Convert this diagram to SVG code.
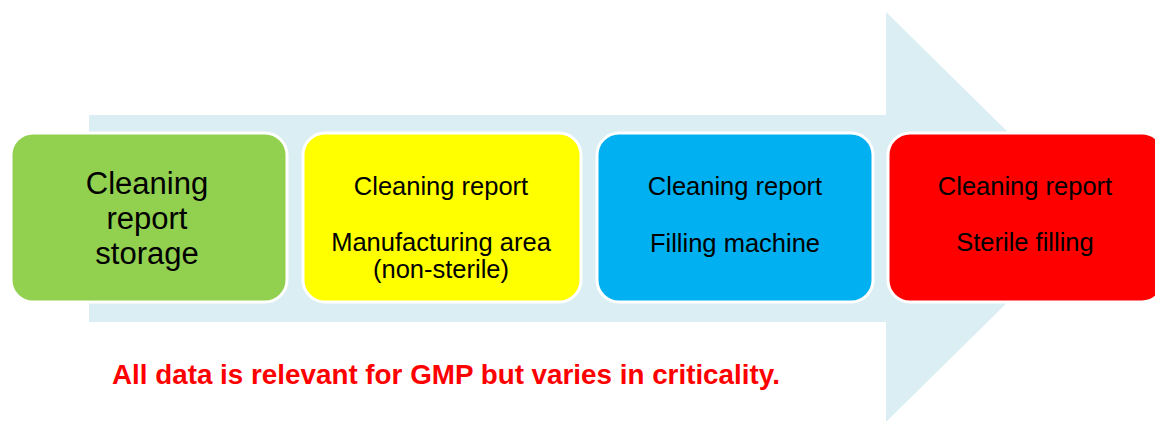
<svg xmlns="http://www.w3.org/2000/svg" width="1155" height="421" viewBox="0 0 1155 421">
  <style>
    .box { stroke: #FFFFFF; stroke-width: 3; }
    .label { font-family: "Liberation Sans", Arial, sans-serif; fill: #000000; text-anchor: middle; }
    .big { font-size: 31px; }
    .small { font-size: 25.5px; }
    .note { font-family: "Liberation Sans", Arial, sans-serif; font-size: 27.8px; font-weight: bold; fill: #FF0000; }
  </style>

  <rect width="1155" height="421" fill="#FFFFFF"/>

  <!-- background process arrow -->
  <g id="connectors">
    <polygon points="89,115 886,115 886,12 1094,217 886,422 886,322 89,322" fill="#DAEEF3"/>
  </g>

  <g id="node-storage">
    <rect class="box" x="11" y="133" width="276" height="169" rx="22" fill="#92D050"/>
    <text class="label big" x="147" y="194">Cleaning</text>
    <text class="label big" x="147" y="229">report</text>
    <text class="label big" x="147" y="264">storage</text>
  </g>

  <g id="node-manufacturing">
    <rect class="box" x="303" y="133" width="278" height="169" rx="22" fill="#FFFF00"/>
    <text class="label small" x="441" y="195">Cleaning report</text>
    <text class="label small" x="441" y="251">Manufacturing area</text>
    <text class="label small" x="441" y="278">(non-sterile)</text>
  </g>

  <g id="node-filling">
    <rect class="box" x="597" y="133" width="276" height="169" rx="22" fill="#00B0F0"/>
    <text class="label small" x="735" y="195">Cleaning report</text>
    <text class="label small" x="735" y="252">Filling machine</text>
  </g>

  <g id="node-sterile">
    <rect class="box" x="888" y="133" width="276" height="169" rx="22" fill="#FF0000"/>
    <text class="label small" x="1025" y="195">Cleaning report</text>
    <text class="label small" x="1025" y="251">Sterile filling</text>
  </g>

  <text class="note" x="112" y="384">All data is relevant for GMP but varies in criticality.</text>
</svg>
